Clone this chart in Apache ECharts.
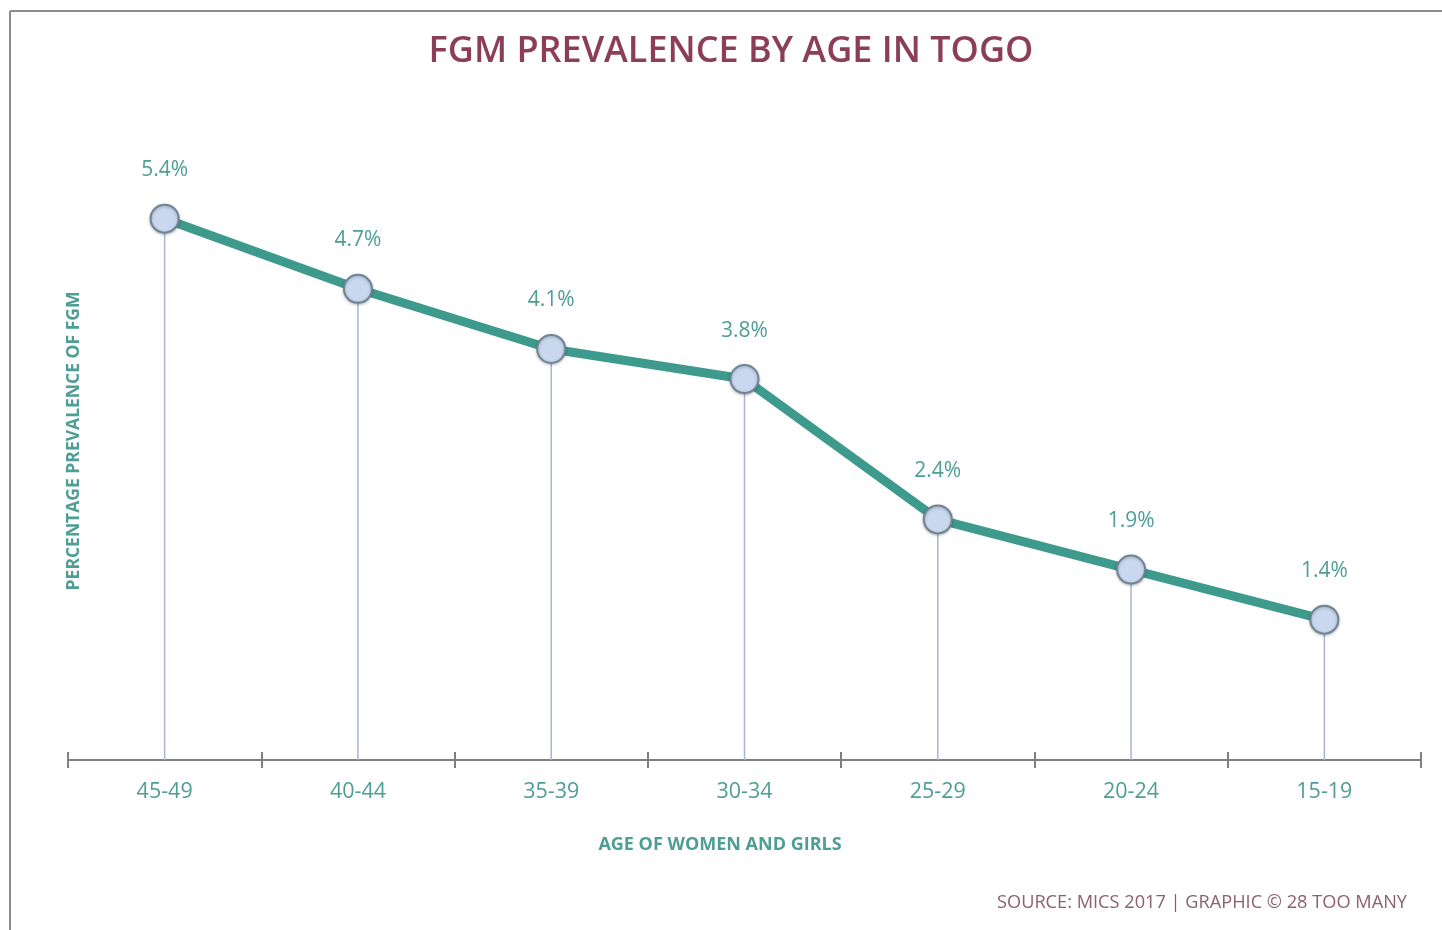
<!DOCTYPE html>
<html>
<head>
<meta charset="utf-8">
<title>FGM prevalence by age in Togo</title>
<script src="https://cdn.jsdelivr.net/npm/echarts@6/dist/echarts.min.js"></script>
<style>
html, body { margin: 0; padding: 0; background: #fff; }
#chart { width: 1442px; height: 930px; }
</style>
</head>
<body>
<div id="chart"></div>
<script>
// age groups, oldest first as in the original
var ageGroups = ['45-49', '40-44', '35-39', '30-34', '25-29', '20-24', '15-19'];
// prevalence in percent
var prevalence = [5.4, 4.7, 4.1, 3.8, 2.4, 1.9, 1.4];

var teal = '#3f9a8e';
var labelTeal = '#4f9e95';
var maroon = '#8b3e55';

var myChart = echarts.init(document.getElementById('chart'));

var option = {
	backgroundColor: '#fff',
	title: [{
		text: 'FGM PREVALENCE BY AGE IN TOGO',
		left: 726,
		top: 29,
		textAlign: 'center',
		textStyle: {
			color: maroon,
			fontFamily: 'Open Sans',
			fontWeight: 600,
			fontSize: 36
		}
	}, {
		text: 'AGE OF WOMEN AND GIRLS',
		left: 715,
		top: 831,
		textAlign: 'center',
		textStyle: {
			color: labelTeal,
			fontFamily: 'Open Sans',
			fontWeight: 'bold',
			fontSize: 18
		}
	}, {
		text: 'SOURCE: MICS 2017 | GRAPHIC \u00a9 28 TOO MANY',
		right: 30,
		top: 889,
		textStyle: {
			color: '#8e5f6e',
			fontFamily: 'Open Sans',
			fontWeight: 'normal',
			fontSize: 18.2
		}
	}],
	graphic: [
		// frame lines at top and left
		{ type: 'line', shape: { x1: 10, y1: 11, x2: 1442, y2: 11 }, style: { stroke: '#8c8c8c', lineWidth: 2 } },
		{ type: 'line', shape: { x1: 10, y1: 11, x2: 10, y2: 930 }, style: { stroke: '#8c8c8c', lineWidth: 2 } },
		{
			type: 'text',
			x: 74,
			y: 441,
			rotation: Math.PI / 2,
			style: {
				text: 'PERCENTAGE PREVALENCE OF FGM',
				fill: labelTeal,
				font: 'bold 17.5px "Open Sans"',
				align: 'center',
				verticalAlign: 'middle'
			}
		}
	],
	grid: {
		left: 68,
		right: 21,
		top: 158.5,
		bottom: 170,
		containLabel: false
	},
	xAxis: [{
		type: 'category',
		data: ageGroups,
		boundaryGap: true,
		axisLine: { lineStyle: { color: '#7f7f7f', width: 2 } },
		axisTick: { show: true, length: 8, lineStyle: { color: '#7f7f7f', width: 2 } },
		axisLabel: {
			color: labelTeal,
			fontFamily: 'Open Sans',
			fontSize: 21.5,
			margin: 21
		}
	}, {
		// second axis only for the ticks that poke above the line
		type: 'category',
		data: ageGroups,
		position: 'bottom',
		boundaryGap: true,
		axisLine: { show: false },
		axisTick: { show: true, inside: true, length: 8, lineStyle: { color: '#7f7f7f', width: 2 } },
		axisLabel: { show: false }
	}],
	yAxis: {
		type: 'value',
		min: 0,
		max: 6,
		show: false
	},
	series: [{
		// thin drop lines from each point down to the axis
		type: 'bar',
		data: prevalence,
		barWidth: 1.5,
		silent: true,
		z: 1,
		itemStyle: { color: '#a9b3d8' }
	}, {
		type: 'line',
		data: prevalence,
		z: 3,
		symbol: 'circle',
		symbolSize: 28,
		lineStyle: { color: teal, width: 9 },
		itemStyle: {
			color: '#c9d8ef',
			borderColor: '#6f8595',
			borderWidth: 2,
			shadowColor: 'rgba(0,0,0,0.25)',
			shadowBlur: 3,
			shadowOffsetY: 1
		},
		label: {
			show: true,
			position: 'top',
			distance: 23,
			color: labelTeal,
			fontFamily: 'Open Sans',
			fontSize: 21,
			formatter: function(p) {
				return p.value.toFixed(1) + '%';
			}
		}
	}]
};

myChart.setOption(option);
</script>
</body>
</html>
